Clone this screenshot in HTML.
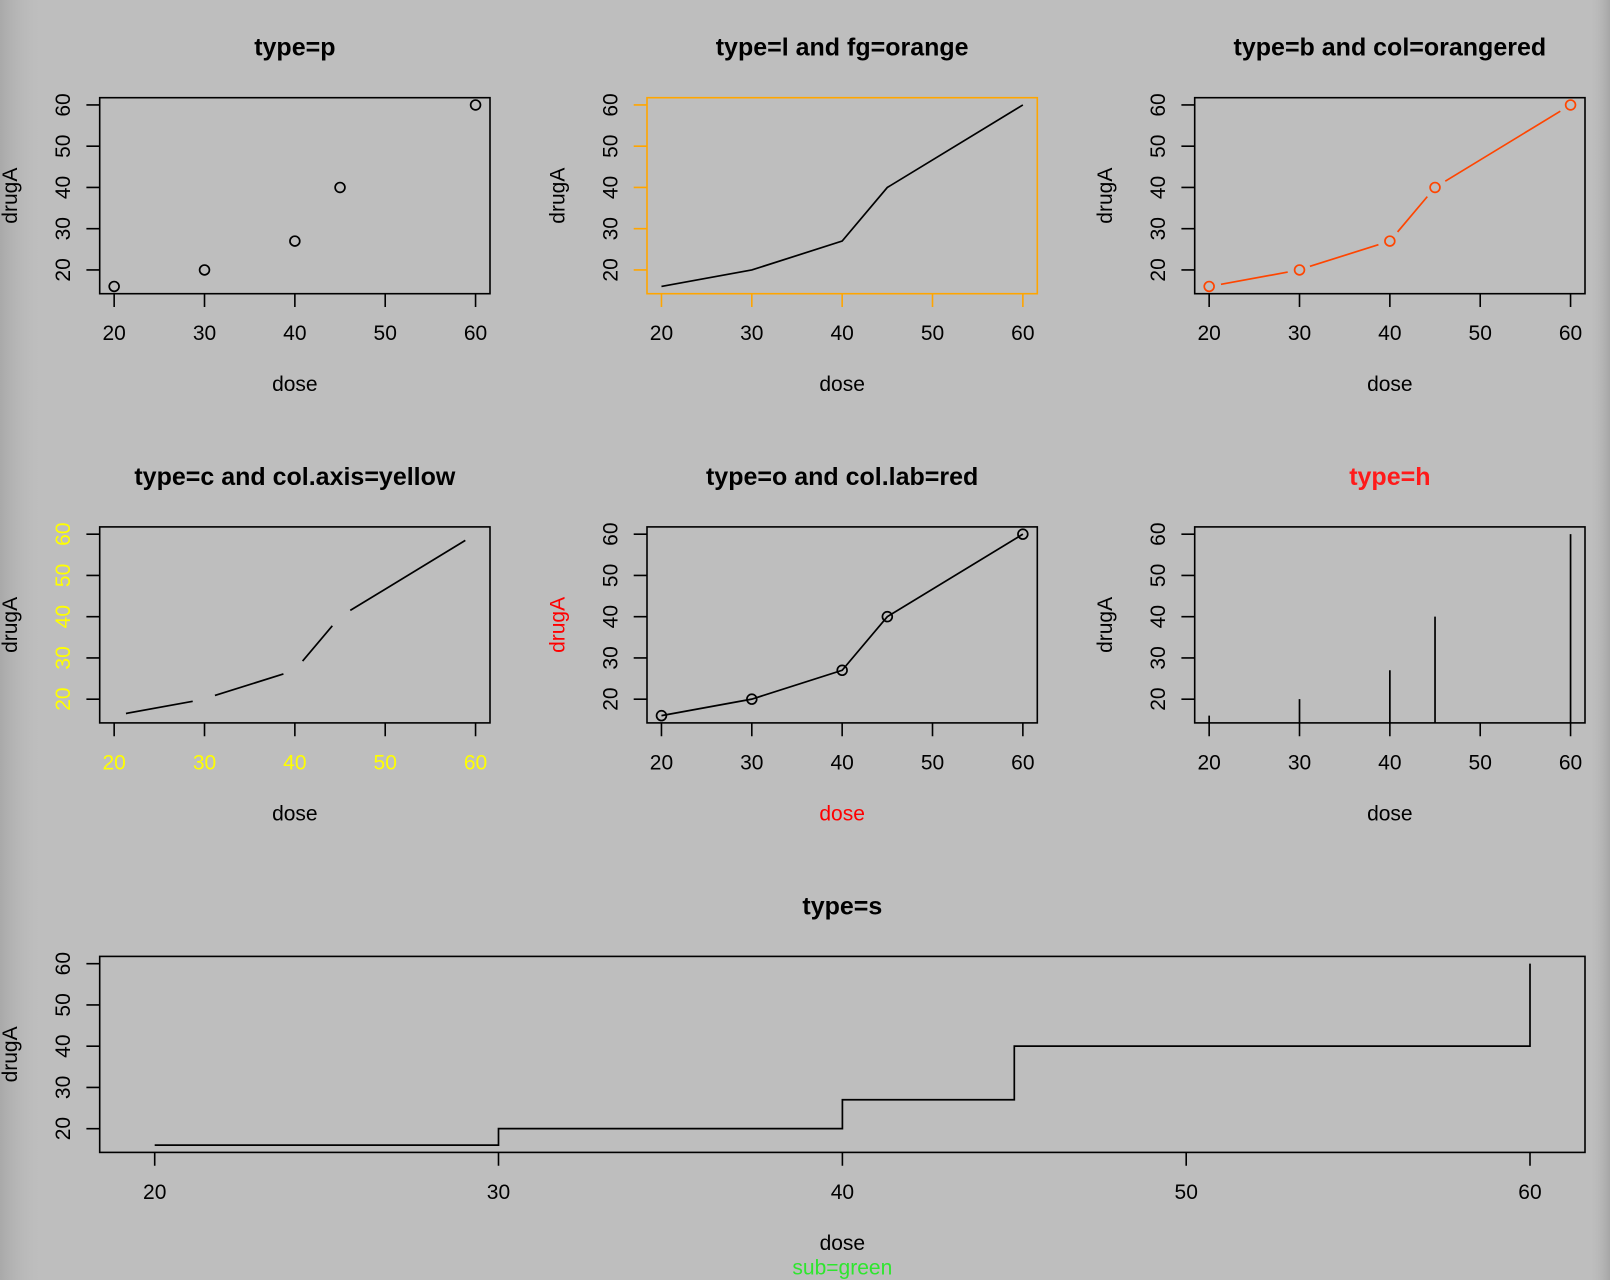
<!DOCTYPE html>
<html>
<head>
<meta charset="utf-8">
<style>
html,body{margin:0;padding:0;background:#bebebe;}
svg{display:block;}
text{font-family:"Liberation Sans",Arial,Helvetica,sans-serif;}
.t{font-size:21px;}
.m{font-size:25px;font-weight:bold;}
</style>
</head>
<body>
<svg width="1610" height="1280" viewBox="0 0 1610 1280" xmlns="http://www.w3.org/2000/svg">
<defs>
<linearGradient id="gl" x1="0" y1="0" x2="1" y2="0">
<stop offset="0" stop-color="#a9a9a9"/>
<stop offset="1" stop-color="#bebebe" stop-opacity="0"/>
</linearGradient>
<linearGradient id="gr" x1="0" y1="0" x2="1" y2="0">
<stop offset="0" stop-color="#bebebe" stop-opacity="0"/>
<stop offset="1" stop-color="#a6a6a6"/>
</linearGradient>
</defs>
<rect x="0" y="0" width="1610" height="1280" fill="#bebebe"/>
<rect x="0" y="0" width="45" height="1280" fill="url(#gl)"/>
<rect x="1588" y="0" width="22" height="1280" fill="url(#gr)"/>

<!-- Plot 1: type=p -->
<g transform="translate(99.7,97.7)">
<text class="m" x="195.15" y="-42" text-anchor="middle" fill="#000">type=p</text>
<rect x="0" y="0" width="390.3" height="196" fill="none" stroke="#000" stroke-width="1.6"/>
<path d="M14.46 196v13.3M104.81 196v13.3M195.16 196v13.3M285.51 196v13.3M375.86 196v13.3M0 172.24h-13.3M0 131h-13.3M0 89.75h-13.3M0 48.51h-13.3M0 7.26h-13.3" stroke="#000" stroke-width="1.6" fill="none"/>
<g class="t" fill="#000" text-anchor="middle">
<text x="14.46" y="242.5">20</text><text x="104.81" y="242.5">30</text><text x="195.16" y="242.5">40</text><text x="285.51" y="242.5">50</text><text x="375.86" y="242.5">60</text>
<text transform="translate(-29.7,172.24) rotate(-90)">20</text>
<text transform="translate(-29.7,131) rotate(-90)">30</text>
<text transform="translate(-29.7,89.75) rotate(-90)">40</text>
<text transform="translate(-29.7,48.51) rotate(-90)">50</text>
<text transform="translate(-29.7,7.26) rotate(-90)">60</text>
<text x="195.15" y="293.5">dose</text>
<text transform="translate(-82.7,98) rotate(-90)">drugA</text>
</g>
<g fill="none" stroke="#000" stroke-width="1.7">
<circle cx="14.46" cy="188.74" r="4.9"/><circle cx="104.81" cy="172.24" r="4.9"/><circle cx="195.16" cy="143.37" r="4.9"/><circle cx="240.33" cy="89.75" r="4.9"/><circle cx="375.86" cy="7.26" r="4.9"/>
</g>
</g>

<!-- Plot 2: type=l fg=orange -->
<g transform="translate(647,97.7)">
<text class="m" x="195.15" y="-42" text-anchor="middle" fill="#000">type=l and fg=orange</text>
<rect x="0" y="0" width="390.3" height="196" fill="none" stroke="#ffa500" stroke-width="1.6"/>
<path d="M14.46 196v13.3M104.81 196v13.3M195.16 196v13.3M285.51 196v13.3M375.86 196v13.3M0 172.24h-13.3M0 131h-13.3M0 89.75h-13.3M0 48.51h-13.3M0 7.26h-13.3" stroke="#ffa500" stroke-width="1.6" fill="none"/>
<g class="t" fill="#000" text-anchor="middle">
<text x="14.46" y="242.5">20</text><text x="104.81" y="242.5">30</text><text x="195.16" y="242.5">40</text><text x="285.51" y="242.5">50</text><text x="375.86" y="242.5">60</text>
<text transform="translate(-29.7,172.24) rotate(-90)">20</text>
<text transform="translate(-29.7,131) rotate(-90)">30</text>
<text transform="translate(-29.7,89.75) rotate(-90)">40</text>
<text transform="translate(-29.7,48.51) rotate(-90)">50</text>
<text transform="translate(-29.7,7.26) rotate(-90)">60</text>
<text x="195.15" y="293.5">dose</text>
<text transform="translate(-82.7,98) rotate(-90)">drugA</text>
</g>
<polyline points="14.46,188.74 104.81,172.24 195.16,143.37 240.33,89.75 375.86,7.26" fill="none" stroke="#000" stroke-width="1.7"/>
</g>

<!-- Plot 3: type=b col=orangered -->
<g transform="translate(1194.7,97.7)">
<text class="m" x="195.15" y="-42" text-anchor="middle" fill="#000">type=b and col=orangered</text>
<rect x="0" y="0" width="390.3" height="196" fill="none" stroke="#000" stroke-width="1.6"/>
<path d="M14.46 196v13.3M104.81 196v13.3M195.16 196v13.3M285.51 196v13.3M375.86 196v13.3M0 172.24h-13.3M0 131h-13.3M0 89.75h-13.3M0 48.51h-13.3M0 7.26h-13.3" stroke="#000" stroke-width="1.6" fill="none"/>
<g class="t" fill="#000" text-anchor="middle">
<text x="14.46" y="242.5">20</text><text x="104.81" y="242.5">30</text><text x="195.16" y="242.5">40</text><text x="285.51" y="242.5">50</text><text x="375.86" y="242.5">60</text>
<text transform="translate(-29.7,172.24) rotate(-90)">20</text>
<text transform="translate(-29.7,131) rotate(-90)">30</text>
<text transform="translate(-29.7,89.75) rotate(-90)">40</text>
<text transform="translate(-29.7,48.51) rotate(-90)">50</text>
<text transform="translate(-29.7,7.26) rotate(-90)">60</text>
<text x="195.15" y="293.5">dose</text>
<text transform="translate(-82.7,98) rotate(-90)">drugA</text>
</g>
<path d="M26.27 186.58L93 174.4M115.24 168.59L183.73 147.02M202.89 134.19L232.6 98.93M250.58 83.51L365.61 13.5" fill="none" stroke="#ff4500" stroke-width="1.7"/>
<g fill="none" stroke="#ff4500" stroke-width="1.7">
<circle cx="14.46" cy="188.74" r="4.9"/><circle cx="104.81" cy="172.24" r="4.9"/><circle cx="195.16" cy="143.37" r="4.9"/><circle cx="240.33" cy="89.75" r="4.9"/><circle cx="375.86" cy="7.26" r="4.9"/>
</g>
</g>

<!-- Plot 4: type=c col.axis=yellow -->
<g transform="translate(99.7,526.9)">
<text class="m" x="195.15" y="-42" text-anchor="middle" fill="#000">type=c and col.axis=yellow</text>
<rect x="0" y="0" width="390.3" height="196" fill="none" stroke="#000" stroke-width="1.6"/>
<path d="M14.46 196v13.3M104.81 196v13.3M195.16 196v13.3M285.51 196v13.3M375.86 196v13.3M0 172.24h-13.3M0 131h-13.3M0 89.75h-13.3M0 48.51h-13.3M0 7.26h-13.3" stroke="#000" stroke-width="1.6" fill="none"/>
<g class="t" fill="#ffff00" text-anchor="middle">
<text x="14.46" y="242.5">20</text><text x="104.81" y="242.5">30</text><text x="195.16" y="242.5">40</text><text x="285.51" y="242.5">50</text><text x="375.86" y="242.5">60</text>
<text transform="translate(-29.7,172.24) rotate(-90)">20</text>
<text transform="translate(-29.7,131) rotate(-90)">30</text>
<text transform="translate(-29.7,89.75) rotate(-90)">40</text>
<text transform="translate(-29.7,48.51) rotate(-90)">50</text>
<text transform="translate(-29.7,7.26) rotate(-90)">60</text>
</g>
<g class="t" fill="#000" text-anchor="middle">
<text x="195.15" y="293.5">dose</text>
<text transform="translate(-82.7,98) rotate(-90)">drugA</text>
</g>
<path d="M26.27 186.58L93 174.4M115.24 168.59L183.73 147.02M202.89 134.19L232.6 98.93M250.58 83.51L365.61 13.5" fill="none" stroke="#000" stroke-width="1.7"/>
</g>

<!-- Plot 5: type=o col.lab=red -->
<g transform="translate(647,526.9)">
<text class="m" x="195.15" y="-42" text-anchor="middle" fill="#000">type=o and col.lab=red</text>
<rect x="0" y="0" width="390.3" height="196" fill="none" stroke="#000" stroke-width="1.6"/>
<path d="M14.46 196v13.3M104.81 196v13.3M195.16 196v13.3M285.51 196v13.3M375.86 196v13.3M0 172.24h-13.3M0 131h-13.3M0 89.75h-13.3M0 48.51h-13.3M0 7.26h-13.3" stroke="#000" stroke-width="1.6" fill="none"/>
<g class="t" fill="#000" text-anchor="middle">
<text x="14.46" y="242.5">20</text><text x="104.81" y="242.5">30</text><text x="195.16" y="242.5">40</text><text x="285.51" y="242.5">50</text><text x="375.86" y="242.5">60</text>
<text transform="translate(-29.7,172.24) rotate(-90)">20</text>
<text transform="translate(-29.7,131) rotate(-90)">30</text>
<text transform="translate(-29.7,89.75) rotate(-90)">40</text>
<text transform="translate(-29.7,48.51) rotate(-90)">50</text>
<text transform="translate(-29.7,7.26) rotate(-90)">60</text>
</g>
<g class="t" fill="#ff0000" text-anchor="middle">
<text x="195.15" y="293.5">dose</text>
<text transform="translate(-82.7,98) rotate(-90)">drugA</text>
</g>
<polyline points="14.46,188.74 104.81,172.24 195.16,143.37 240.33,89.75 375.86,7.26" fill="none" stroke="#000" stroke-width="1.7"/>
<g fill="none" stroke="#000" stroke-width="1.7">
<circle cx="14.46" cy="188.74" r="4.9"/><circle cx="104.81" cy="172.24" r="4.9"/><circle cx="195.16" cy="143.37" r="4.9"/><circle cx="240.33" cy="89.75" r="4.9"/><circle cx="375.86" cy="7.26" r="4.9"/>
</g>
</g>

<!-- Plot 6: type=h -->
<g transform="translate(1194.7,526.9)">
<text class="m" x="195.15" y="-42" text-anchor="middle" fill="#ff1a1a">type=h</text>
<rect x="0" y="0" width="390.3" height="196" fill="none" stroke="#000" stroke-width="1.6"/>
<path d="M14.46 196v13.3M104.81 196v13.3M195.16 196v13.3M285.51 196v13.3M375.86 196v13.3M0 172.24h-13.3M0 131h-13.3M0 89.75h-13.3M0 48.51h-13.3M0 7.26h-13.3" stroke="#000" stroke-width="1.6" fill="none"/>
<g class="t" fill="#000" text-anchor="middle">
<text x="14.46" y="242.5">20</text><text x="104.81" y="242.5">30</text><text x="195.16" y="242.5">40</text><text x="285.51" y="242.5">50</text><text x="375.86" y="242.5">60</text>
<text transform="translate(-29.7,172.24) rotate(-90)">20</text>
<text transform="translate(-29.7,131) rotate(-90)">30</text>
<text transform="translate(-29.7,89.75) rotate(-90)">40</text>
<text transform="translate(-29.7,48.51) rotate(-90)">50</text>
<text transform="translate(-29.7,7.26) rotate(-90)">60</text>
<text x="195.15" y="293.5">dose</text>
<text transform="translate(-82.7,98) rotate(-90)">drugA</text>
</g>
<path d="M14.46 196V188.74M104.81 196V172.24M195.16 196V143.37M240.33 196V89.75M375.86 196V7.26" fill="none" stroke="#000" stroke-width="1.7"/>
</g>

<!-- Plot 7: type=s -->
<g transform="translate(99.7,956.4)">
<text class="m" x="742.65" y="-42" text-anchor="middle" fill="#000">type=s</text>
<rect x="0" y="0" width="1485.3" height="196" fill="none" stroke="#000" stroke-width="1.6"/>
<path d="M55 196v13.3M398.8 196v13.3M742.7 196v13.3M1086.5 196v13.3M1430.3 196v13.3M0 172.24h-13.3M0 131h-13.3M0 89.75h-13.3M0 48.51h-13.3M0 7.26h-13.3" stroke="#000" stroke-width="1.6" fill="none"/>
<g class="t" fill="#000" text-anchor="middle">
<text x="55" y="242.5">20</text><text x="398.8" y="242.5">30</text><text x="742.7" y="242.5">40</text><text x="1086.5" y="242.5">50</text><text x="1430.3" y="242.5">60</text>
<text transform="translate(-29.7,172.24) rotate(-90)">20</text>
<text transform="translate(-29.7,131) rotate(-90)">30</text>
<text transform="translate(-29.7,89.75) rotate(-90)">40</text>
<text transform="translate(-29.7,48.51) rotate(-90)">50</text>
<text transform="translate(-29.7,7.26) rotate(-90)">60</text>
<text x="742.65" y="293.5">dose</text>
<text transform="translate(-82.7,98) rotate(-90)">drugA</text>
</g>
<text class="t" x="742.65" y="318" text-anchor="middle" fill="#2ee62e">sub=green</text>
<path d="M55 188.74H398.8V172.24H742.7V143.37H914.6V89.75H1430.3V7.26" fill="none" stroke="#000" stroke-width="1.7"/>
</g>
</svg>
</body>
</html>
